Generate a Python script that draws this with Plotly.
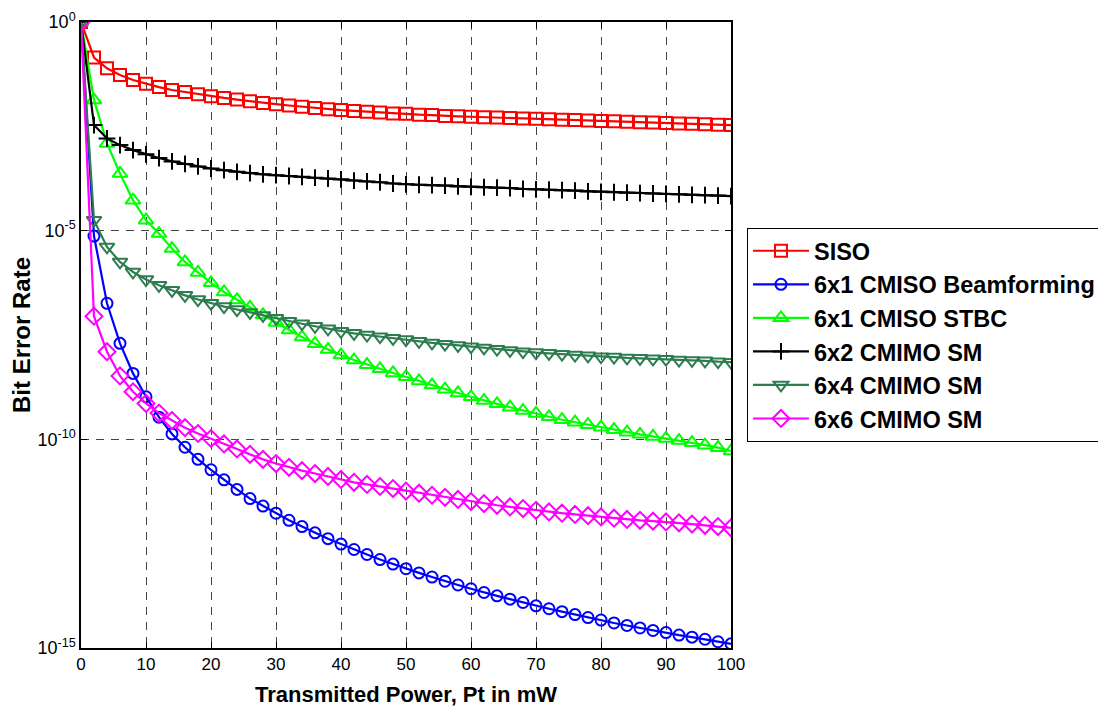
import plotly.graph_objects as go

# Transmitted power (mW)
power_mw = list(range(0, 101, 2))

# log10(Bit Error Rate), one value per marker
siso_log10 = [0, -0.85, -1.11, -1.27, -1.39, -1.48, -1.56, -1.63, -1.68, -1.73,
              -1.78, -1.82, -1.86, -1.90, -1.94, -1.97, -2.00, -2.03, -2.06, -2.09,
              -2.11, -2.13, -2.15, -2.17, -2.19, -2.20, -2.22, -2.23, -2.25, -2.26,
              -2.27, -2.28, -2.29, -2.30, -2.31, -2.32, -2.33, -2.34, -2.35, -2.36,
              -2.37, -2.38, -2.39, -2.40, -2.41, -2.42, -2.43, -2.44, -2.45, -2.46, -2.47]
beamforming_log10 = [0, -5.13, -6.74, -7.70, -8.42, -8.98, -9.47, -9.87, -10.19, -10.48,
                     -10.73, -10.97, -11.20, -11.42, -11.60, -11.77, -11.94, -12.09, -12.24, -12.38,
                     -12.51, -12.64, -12.76, -12.88, -12.99, -13.10, -13.20, -13.30, -13.40, -13.49,
                     -13.58, -13.67, -13.75, -13.83, -13.91, -13.99, -14.06, -14.13, -14.20, -14.27,
                     -14.33, -14.40, -14.46, -14.52, -14.58, -14.63, -14.69, -14.74, -14.79, -14.85, -14.90]
stbc_log10 = [0, -1.87, -2.91, -3.63, -4.27, -4.75, -5.07, -5.43, -5.75, -6.00,
              -6.25, -6.47, -6.66, -6.84, -7.02, -7.20, -7.38, -7.55, -7.71, -7.85,
              -7.98, -8.10, -8.21, -8.31, -8.41, -8.50, -8.60, -8.70, -8.80, -8.89,
              -8.98, -9.07, -9.15, -9.23, -9.31, -9.38, -9.46, -9.53, -9.59, -9.65,
              -9.71, -9.77, -9.83, -9.88, -9.93, -9.98, -10.03, -10.08, -10.14, -10.20, -10.28]
cmimo_6x2_log10 = [0, -2.47, -2.79, -2.95, -3.07, -3.17, -3.26, -3.34, -3.40, -3.46,
                   -3.51, -3.55, -3.59, -3.62, -3.65, -3.67, -3.69, -3.71, -3.73, -3.75,
                   -3.77, -3.80, -3.82, -3.84, -3.87, -3.89, -3.90, -3.91, -3.92, -3.94,
                   -3.95, -3.96, -3.97, -3.98, -4.00, -4.01, -4.02, -4.03, -4.04, -4.06,
                   -4.07, -4.08, -4.09, -4.10, -4.11, -4.12, -4.13, -4.14, -4.15, -4.16, -4.17]
cmimo_6x4_log10 = [0, -4.75, -5.39, -5.75, -5.99, -6.17, -6.31, -6.43, -6.55, -6.65,
                   -6.74, -6.82, -6.89, -6.96, -7.03, -7.10, -7.17, -7.23, -7.29, -7.35,
                   -7.41, -7.46, -7.50, -7.54, -7.58, -7.61, -7.65, -7.69, -7.72, -7.75,
                   -7.78, -7.81, -7.84, -7.87, -7.90, -7.92, -7.94, -7.96, -7.98, -8.00,
                   -8.02, -8.03, -8.05, -8.06, -8.07, -8.08, -8.10, -8.11, -8.12, -8.14, -8.15]
cmimo_6x6_log10 = [0, -7.05, -7.90, -8.48, -8.86, -9.14, -9.37, -9.55, -9.72, -9.86,
                   -9.98, -10.11, -10.23, -10.36, -10.48, -10.58, -10.67, -10.75, -10.82, -10.89,
                   -10.96, -11.03, -11.08, -11.13, -11.18, -11.24, -11.29, -11.34, -11.39, -11.44,
                   -11.49, -11.54, -11.58, -11.62, -11.66, -11.70, -11.74, -11.77, -11.80, -11.83,
                   -11.86, -11.89, -11.92, -11.94, -11.96, -11.98, -12.00, -12.03, -12.06, -12.09, -12.12]

series_names = ["SISO", "6x1 CMISO Beamforming", "6x1 CMISO STBC",
                "6x2 CMIMO SM", "6x4 CMIMO SM", "6x6 CMIMO SM"]
series_values = [siso_log10, beamforming_log10, stbc_log10,
                 cmimo_6x2_log10, cmimo_6x4_log10, cmimo_6x6_log10]

x_tick_values = list(range(0, 101, 10))
y_tick_exponents = [0, -5, -10, -15]
y_tick_labels = ["10<sup>0</sup>", "10<sup>-5</sup>", "10<sup>-10</sup>", "10<sup>-15</sup>"]

styles = [
    dict(color="#FF0000", symbol="square-open", size=12),
    dict(color="#0000FF", symbol="circle-open", size=11),
    dict(color="#00FF00", symbol="triangle-up-open", size=13),
    dict(color="#000000", symbol="cross-thin-open", size=12),
    dict(color="#2E7D4F", symbol="triangle-down-open", size=13),
    dict(color="#FF00FF", symbol="diamond-open", size=13),
]

fig = go.Figure()
for i, (name, vals, st) in enumerate(zip(series_names, series_values, styles)):
    fig.add_trace(go.Scatter(
        x=power_mw,
        y=[10 ** v for v in vals],
        mode="lines+markers",
        name=name,
        legendgroup=f"g{i}",
        line=dict(color=st["color"], width=2.2),
        marker=dict(symbol=st["symbol"], size=st["size"], color=st["color"],
                    line=dict(color=st["color"], width=2)),
    ))

font_family = "Liberation Sans, Arial, sans-serif"

fig.update_layout(
    width=1106, height=712,
    paper_bgcolor="white", plot_bgcolor="white",
    margin=dict(l=73, r=383, t=14, b=72, autoexpand=False),
    font=dict(family=font_family, color="black"),
    showlegend=True,
    legend=dict(
        x=1.0246, xanchor="left", y=0.671, yanchor="top",
        bgcolor="white", bordercolor="black", borderwidth=1,
        font=dict(size=23.5, family=font_family, color="black", weight="bold"),
        itemwidth=56, tracegroupgap=0,
    ),
    xaxis=dict(
        range=[0, 100], tickmode="array", tickvals=x_tick_values,
        ticks="inside", ticklen=6, tickcolor="black", mirror="ticks",
        showline=True, linecolor="black", linewidth=1.5,
        showgrid=True, gridcolor="#444444", griddash="8px,7px", gridwidth=1,
        zeroline=False, automargin=False,
        tickfont=dict(size=17, color="black"),
        title=dict(text="<b>Transmitted Power, Pt in mW</b>", font=dict(size=22), standoff=13),
    ),
    yaxis=dict(
        type="log", range=[-15, 0], tickmode="array",
        tickvals=[10 ** e for e in y_tick_exponents], ticktext=y_tick_labels,
        ticks="inside", ticklen=6, tickcolor="black", mirror="ticks",
        showline=True, linecolor="black", linewidth=1.5,
        showgrid=True, gridcolor="#444444", griddash="8px,7px", gridwidth=1,
        zeroline=False, automargin=False,
        tickfont=dict(size=18, color="black"),
        title=dict(text="<b>Bit Error Rate</b>", font=dict(size=24), standoff=0),
    ),
)

fig.write_html("out.html")
